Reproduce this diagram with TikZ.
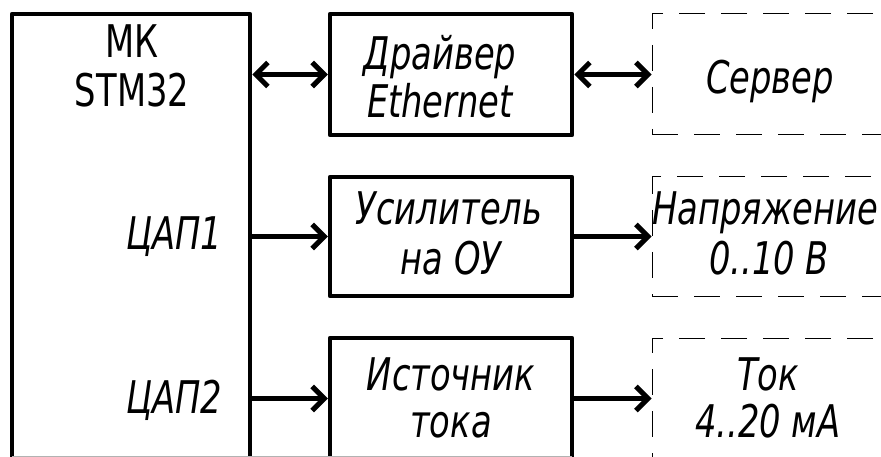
\documentclass[tikz,border=0pt]{standalone}
\usepackage{fontspec}
\setmainfont{DejaVu Sans}[FakeStretch=0.75]
\usetikzlibrary{arrows.meta}
\tikzset{
  blk/.style={draw, line width=4.5pt, line join=round, inner sep=0pt, minimum width=242pt},
  ext/.style={draw, line width=1pt, dash pattern=on 26pt off 16pt, inner sep=0pt, minimum width=260pt},
  lbl/.style={font=\fontsize{45}{49}\selectfont\itshape, inner sep=0pt, anchor=base},
  ulbl/.style={font=\fontsize{45}{49}\selectfont, inner sep=0pt, anchor=base},
  tipb/.tip={Straight Barb[length=12pt,width=24pt,line width=5pt]},
  arr/.style={draw, line width=5pt, -tipb},
  biarr/.style={draw, line width=5pt, tipb-tipb},
  artifact/.style={draw=black!30, line width=1pt}
}
\begin{document}
\begin{tikzpicture}[x=1pt,y=-1pt]
\useasboundingbox (0,0) rectangle (881,457);
\clip (0,0) rectangle (881,457);
\fill[white] (0,0) rectangle (881,457);
% blocks
\node[blk, minimum width=238pt, minimum height=456pt] (mk) at (131,242) {};
\node[blk, minimum height=121pt] (drv) at (451,74.5) {};
\node[blk, minimum height=119pt] (amp) at (451,236.5) {};
\node[blk, minimum height=121pt] (src) at (451,398.5) {};
\node[ext, minimum height=121pt] (srv) at (782,74.5) {};
\node[ext, minimum height=119pt] (volt) at (782,236.5) {};
\node[ext, minimum height=121pt] (cur) at (782,398.5) {};
% bottom edge line
\coordinate (gl) at (12,456);
\coordinate (gr) at (572,456);
\draw[artifact] (gl) -- (gr);
% labels
\node[ulbl] (mk1) at (132,58) {МК};
\node[ulbl] (mk2) at (132,107) {STM32};
\node[lbl, anchor=base west] (dac1) at (126,250) {ЦАП1};
\node[lbl, anchor=base west] (dac2) at (126,413) {ЦАП2};
\node[lbl] (drv1) at (440,70) {Драйвер};
\node[lbl] (drv2) at (440,118) {Ethernet};
\node[lbl] (srv1) at (770,94) {Сервер};
\node[lbl] (amp1) at (449,225) {Усилитель};
\node[lbl] (amp2) at (451,275) {на ОУ};
\node[lbl] (volt1) at (765,225) {Напряжение};
\node[lbl] (volt2) at (769,275) {0..10 В};
\node[lbl] (src1) at (451,390) {Источник};
\node[lbl] (src2) at (451,437) {тока};
\node[lbl] (cur1) at (768,390) {Ток};
\node[lbl] (cur2) at (768,437) {4..20 мА};
% connectors
\draw[biarr] (mk.east |- drv.west) -- (drv.west);
\draw[biarr] (drv.east) -- (srv.west);
\draw[arr] (mk.east |- amp.west) -- (amp.west);
\draw[arr] (amp.east) -- (volt.west);
\draw[arr] (mk.east |- src.west) -- (src.west);
\draw[arr] (src.east) -- (cur.west);
\end{tikzpicture}
\end{document}
